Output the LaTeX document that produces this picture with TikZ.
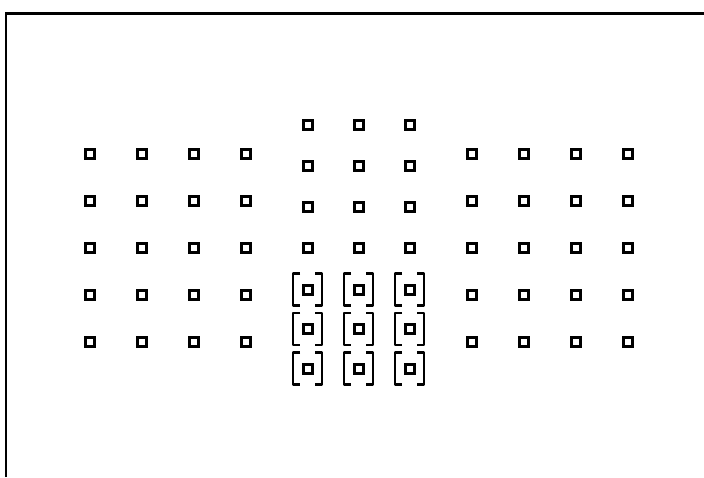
\documentclass[tikz,border=0pt]{standalone}
\begin{document}
\begin{tikzpicture}[x=1pt,y=-1pt,
  af/.style={draw, rectangle, minimum size=9pt, inner sep=0pt, line width=3pt},
  brk/.style={line width=2.9pt, line join=round},
  frameline/.style={line width=2.6pt}]
\useasboundingbox (0,0) rectangle (704,477);
\coordinate (f1) at (6,477);
\coordinate (f2) at (6,13.5);
\coordinate (f3) at (704,13.5);
\draw[frameline] (f1) -- (f2) -- (f3);
% left group
\foreach \i/\x in {1/89.5,2/141.5,3/193.5,4/245.5}
  \foreach \j/\y in {1/153.5,2/200.5,3/247.5,4/294.5,5/341.5}
    \node[af] (L\i\j) at (\x,\y) {};
% right group
\foreach \i/\x in {1/471.5,2/523.5,3/575.5,4/627.5}
  \foreach \j/\y in {1/153.5,2/200.5,3/247.5,4/294.5,5/341.5}
    \node[af] (R\i\j) at (\x,\y) {};
% centre upper
\foreach \i/\x in {1/307.5,2/358.5,3/409.5}
  \foreach \j/\y in {1/124.5,2/165.5,3/206.5,4/247.5}
    \node[af] (C\i\j) at (\x,\y) {};
% centre bracketed
\foreach \i/\x in {1/307.5,2/358.5,3/409.5}
  \foreach \j/\y in {1/289.5,2/329,3/368.5}
  {
    \node[af] (B\i\j) at (\x,\y) {};
    \draw[brk] ([shift={(-7.5,-16)}]B\i\j.center) -- ++(-7,0) -- ++(0,32) -- ++(7,0);
    \draw[brk] ([shift={(7.5,-16)}]B\i\j.center) -- ++(7,0) -- ++(0,32) -- ++(-7,0);
  }
\end{tikzpicture}
\end{document}
